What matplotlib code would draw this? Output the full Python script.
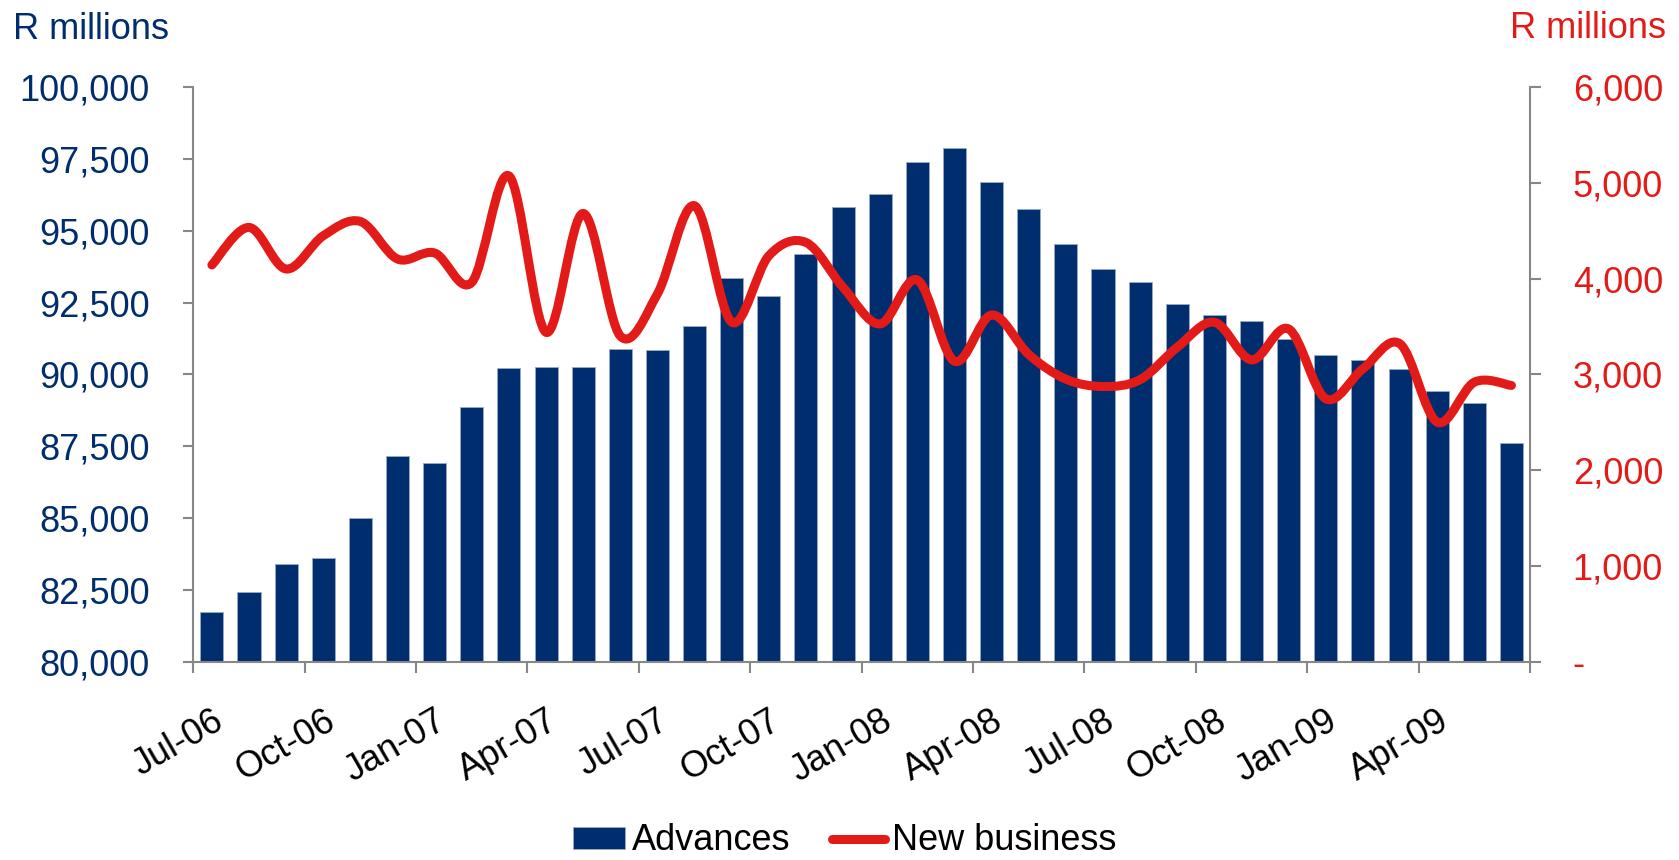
import numpy as np
import matplotlib
matplotlib.use("Agg")
import matplotlib.pyplot as plt
from matplotlib.path import Path
from matplotlib.patches import PathPatch
from matplotlib.lines import Line2D
from matplotlib.ticker import FuncFormatter, FixedLocator

plt.rcParams["font.family"] = ["Liberation Sans", "DejaVu Sans"]

# Monthly series, Jul-06 .. Jun-09 (R millions)
months = ["Jul-06", "Aug-06", "Sep-06", "Oct-06", "Nov-06", "Dec-06",
          "Jan-07", "Feb-07", "Mar-07", "Apr-07", "May-07", "Jun-07",
          "Jul-07", "Aug-07", "Sep-07", "Oct-07", "Nov-07", "Dec-07",
          "Jan-08", "Feb-08", "Mar-08", "Apr-08", "May-08", "Jun-08",
          "Jul-08", "Aug-08", "Sep-08", "Oct-08", "Nov-08", "Dec-08",
          "Jan-09", "Feb-09", "Mar-09", "Apr-09", "May-09", "Jun-09"]

advances = [81740, 82430, 83410, 83610, 84990, 87160, 86920, 88870, 90210,
            90240, 90270, 90890, 90855, 91690, 93360, 92710, 94180, 95830,
            96260, 97390, 97870, 96700, 95750, 94540, 93660, 93220, 92450,
            92060, 91860, 91240, 90690, 90510, 90190, 89410, 89000, 87620]

new_business = [4142, 4534, 4100, 4447, 4596, 4204, 4267, 3960, 5072, 3439,
                4680, 3400, 3840, 4760, 3545, 4238, 4377, 3908, 3527, 3985,
                3137, 3620, 3207, 2950, 2873, 2945, 3283, 3544, 3151, 3474,
                2745, 3058, 3318, 2501, 2918, 2884]

NAVY = "#002D6E"
RED = "#E31B18"
GREY = "#878787"
FS = 26

fig = plt.figure(figsize=(16.79, 8.60), dpi=100)
ax = fig.add_axes([0.11513, 0.23058, 0.91126 - 0.11513, 0.89884 - 0.23058])
ax2 = ax.twinx()

x = np.arange(len(months))
bars = ax.bar(x, advances, width=0.62, color=NAVY, edgecolor="#9AAAC4",
              linewidth=0.6, label="Advances", zorder=2)

ax.set_xlim(-0.5, len(months) - 0.5)
ax.set_ylim(80000, 100000)
ax.set_yticks(np.arange(80000, 100001, 2500))
ax.yaxis.set_major_formatter(FuncFormatter(lambda v, p: f"{v:,.0f}"))

ax2.set_ylim(0, 6000)
ax2.set_yticks(np.arange(0, 6001, 1000))
ax2.yaxis.set_major_formatter(
    FuncFormatter(lambda v, p: "-" if v == 0 else f"{v:,.0f}"))

# Smoothed line through the monthly points (Catmull-Rom as cubic Beziers)
pts = np.column_stack([x, new_business]).astype(float)
ext = np.vstack([pts[0], pts, pts[-1]])
verts = [tuple(pts[0])]
codes = [Path.MOVETO]
for i in range(len(pts) - 1):
    p0, p1, p2, p3 = ext[i], ext[i + 1], ext[i + 2], ext[i + 3]
    c1 = p1 + (p2 - p0) / 6.0
    c2 = p2 - (p3 - p1) / 6.0
    verts += [tuple(c1), tuple(c2), tuple(p2)]
    codes += [Path.CURVE4] * 3
ax2.add_patch(PathPatch(Path(verts, codes), fill=False, edgecolor=RED,
                        linewidth=6.5, capstyle="round", joinstyle="round",
                        zorder=3))

# Axes styling
for a in (ax, ax2):
    a.spines["top"].set_visible(False)
    for s in ("left", "right", "bottom"):
        a.spines[s].set_color(GREY)
        a.spines[s].set_linewidth(1.5)
ax.spines["right"].set_visible(False)
ax2.spines["left"].set_visible(False)
ax2.spines["bottom"].set_visible(False)

ax.tick_params(axis="y", colors=GREY, labelcolor=NAVY, labelsize=FS,
               length=7.3, width=1.5, pad=24)
ax2.tick_params(axis="y", colors=GREY, labelcolor=RED, labelsize=FS,
                length=7.9, width=1.5, pad=22.8)

# Category axis: tick marks between quarters, labels under the quarter months
ax.xaxis.set_major_locator(FixedLocator(np.arange(-0.5, len(months), 3)))
ax.xaxis.set_major_formatter(FuncFormatter(lambda v, p: ""))
ax.tick_params(axis="x", which="major", colors=GREY, length=7.9, width=1.5)
qpos = x[::3]
ax.set_xticks(qpos, minor=True)
ax.set_xticklabels([months[i] for i in qpos], minor=True)
ax.tick_params(axis="x", which="minor", length=0, pad=30, labelsize=FS,
               labelcolor="black")
for lbl in ax.get_xticklabels(minor=True):
    lbl.set_rotation(30)
    lbl.set_ha("right")
    lbl.set_va("top")
    lbl.set_rotation_mode("anchor")

# Axis unit titles
fig.text(13 / 1679, 1 - 39 / 860, "R millions", color=NAVY, fontsize=FS,
         ha="left", va="baseline")
fig.text(1666 / 1679, 1 - 38.5 / 860, "R millions", color=RED, fontsize=FS,
         ha="right", va="baseline")

handles = [bars, Line2D([], [], color=RED, linewidth=6.5,
                        solid_capstyle="round")]
fig.legend(handles, ["Advances", "New business"], loc="center",
           bbox_to_anchor=(0.503, 1 - 841 / 860), ncol=2, frameon=False,
           fontsize=FS, handlelength=1.45, handleheight=0.55,
           handletextpad=0.2, columnspacing=1.15)

fig.savefig("out.png", dpi=100)
